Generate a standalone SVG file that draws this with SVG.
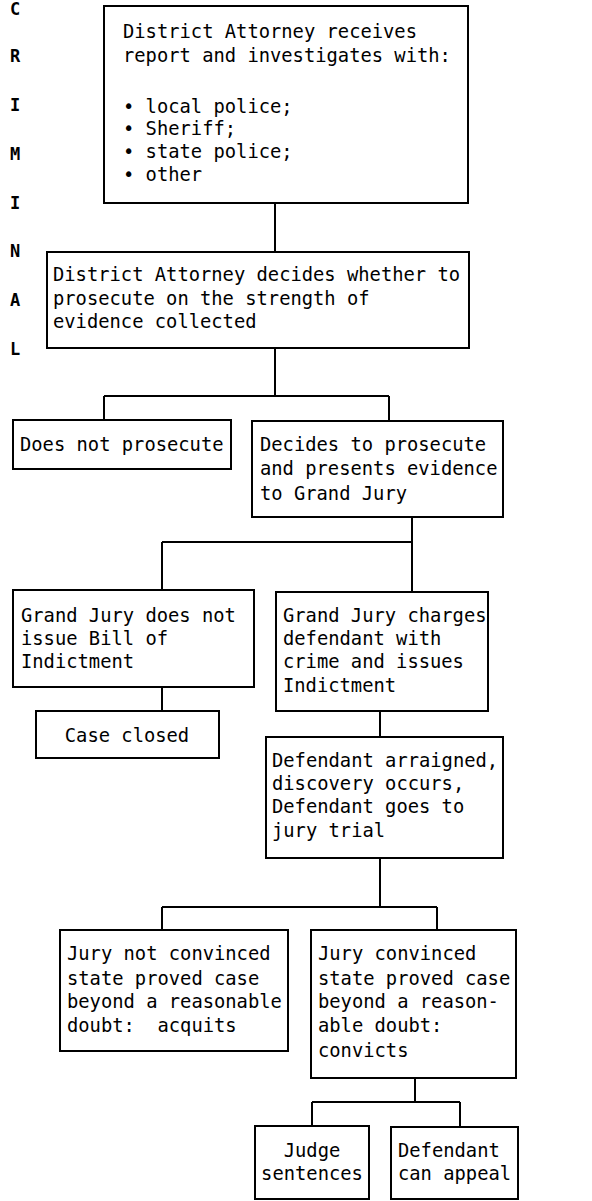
<svg xmlns="http://www.w3.org/2000/svg" width="592" height="1201" viewBox="0 0 592 1201">
<style>
.box{fill:#fff;stroke:#000;stroke-width:2}
.t{font-family:"DejaVu Sans Mono","Liberation Mono",monospace;font-size:18.8px;fill:#000;white-space:pre}
.c{text-anchor:middle}
.side{font-family:"DejaVu Sans Mono","Liberation Mono",monospace;font-size:17px;font-weight:bold;fill:#000;text-anchor:middle}
.ln{fill:none;stroke:#000;stroke-width:2}
</style>
<rect width="592" height="1201" fill="#fff"/>
<g id="side-label">
<text class="side" x="15" y="15">C</text>
<text class="side" x="15" y="62">R</text>
<text class="side" x="15" y="111">I</text>
<text class="side" x="15" y="160">M</text>
<text class="side" x="15" y="209">I</text>
<text class="side" x="15" y="257">N</text>
<text class="side" x="15" y="306">A</text>
<text class="side" x="15" y="355">L</text>
</g>
<g id="connectors">
<path class="ln" d="M275 203V252"/>
<path class="ln" d="M275 348V396M104 396H389M104 396V420M389 396V421"/>
<path class="ln" d="M412 517V592M162 542H412M162 542V590"/>
<path class="ln" d="M162 687V711"/>
<path class="ln" d="M380 711V737"/>
<path class="ln" d="M380 858V907M162 907H437M162 907V930M437 907V930"/>
<path class="ln" d="M415 1078V1102M312 1102H460M312 1102V1126M460 1102V1127"/>
</g>
<g id="n1">
<rect class="box" x="104" y="6" width="364" height="197"/>
<text class="t" x="123" y="38">District Attorney receives</text>
<text class="t" x="123" y="62">report and investigates with:</text>
<text class="t" x="123" y="113">• local police;</text>
<text class="t" x="123" y="135">• Sheriff;</text>
<text class="t" x="123" y="158">• state police;</text>
<text class="t" x="123" y="181">• other</text>
</g>
<g id="n2">
<rect class="box" x="47" y="252" width="422" height="96"/>
<text class="t" x="53" y="281">District Attorney decides whether to</text>
<text class="t" x="53" y="305">prosecute on the strength of</text>
<text class="t" x="53" y="328">evidence collected</text>
</g>
<g id="n3">
<rect class="box" x="13" y="420" width="218" height="49"/>
<text class="t" x="20" y="451">Does not prosecute</text>
</g>
<g id="n4">
<rect class="box" x="252" y="421" width="251" height="96"/>
<text class="t" x="260" y="451">Decides to prosecute</text>
<text class="t" x="260" y="475">and presents evidence</text>
<text class="t" x="260" y="500">to Grand Jury</text>
</g>
<g id="n5">
<rect class="box" x="13" y="590" width="241" height="97"/>
<text class="t" x="21" y="622">Grand Jury does not</text>
<text class="t" x="21" y="645">issue Bill of</text>
<text class="t" x="21" y="668">Indictment</text>
</g>
<g id="n6">
<rect class="box" x="276" y="592" width="212" height="119"/>
<text class="t" x="283" y="622">Grand Jury charges</text>
<text class="t" x="283" y="645">defendant with</text>
<text class="t" x="283" y="668">crime and issues</text>
<text class="t" x="283" y="692">Indictment</text>
</g>
<g id="n7">
<rect class="box" x="36" y="711" width="183" height="47"/>
<text class="t c" x="127" y="742">Case closed</text>
</g>
<g id="n8">
<rect class="box" x="266" y="737" width="237" height="121"/>
<text class="t" x="272" y="767">Defendant arraigned,</text>
<text class="t" x="272" y="790">discovery occurs,</text>
<text class="t" x="272" y="813">Defendant goes to</text>
<text class="t" x="272" y="837">jury trial</text>
</g>
<g id="n9">
<rect class="box" x="60" y="930" width="228" height="121"/>
<text class="t" x="67" y="960">Jury not convinced</text>
<text class="t" x="67" y="985">state proved case</text>
<text class="t" x="67" y="1008">beyond a reasonable</text>
<text class="t" x="67" y="1032">doubt:  acquits</text>
</g>
<g id="n10">
<rect class="box" x="311" y="930" width="205" height="148"/>
<text class="t" x="318" y="960">Jury convinced</text>
<text class="t" x="318" y="985">state proved case</text>
<text class="t" x="318" y="1008">beyond a reason-</text>
<text class="t" x="318" y="1032">able doubt:</text>
<text class="t" x="318" y="1057">convicts</text>
</g>
<g id="n11">
<rect class="box" x="255" y="1126" width="114" height="73"/>
<text class="t c" x="312" y="1157">Judge</text>
<text class="t c" x="312" y="1180">sentences</text>
</g>
<g id="n12">
<rect class="box" x="391" y="1127" width="127" height="72"/>
<text class="t" x="398" y="1157">Defendant</text>
<text class="t" x="398" y="1180">can appeal</text>
</g>
</svg>
